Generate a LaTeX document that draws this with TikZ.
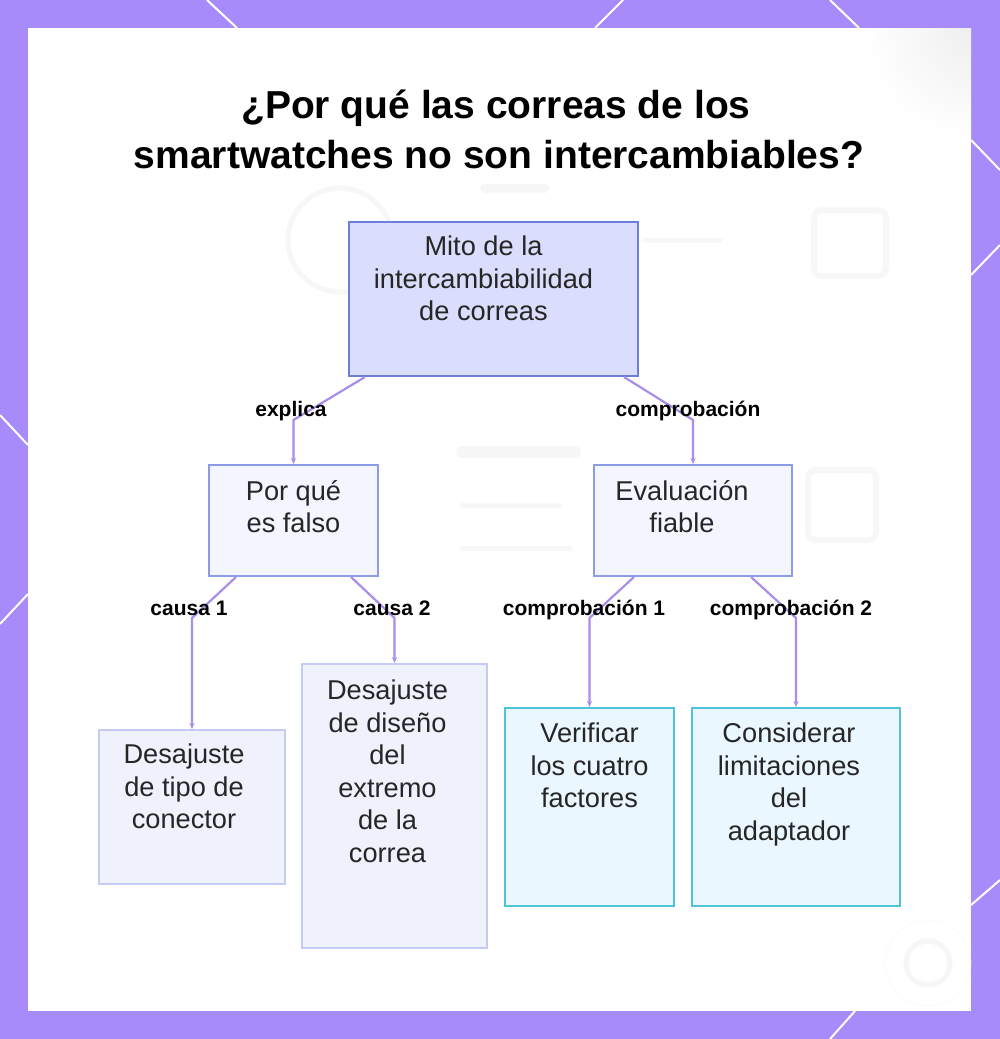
\documentclass[tikz,border=0pt]{standalone}
\usepackage{fontspec}
\setmainfont{Liberation Sans}
\usetikzlibrary{arrows.meta}
\definecolor{framec}{HTML}{A78BFA}
\definecolor{connc}{HTML}{A98DEB}
\definecolor{txtc}{HTML}{262626}
\definecolor{topfill}{HTML}{DADDFB}
\definecolor{topdraw}{HTML}{6E7EDB}
\definecolor{midfill}{HTML}{F3F5FF}
\definecolor{middraw}{HTML}{8C9BEA}
\definecolor{leaffill}{HTML}{EFF1FD}
\definecolor{leafdraw}{HTML}{C5CBF6}
\definecolor{checkfill}{HTML}{EBF7FE}
\definecolor{checkdraw}{HTML}{4FC3DD}
\definecolor{ghost}{HTML}{F7F7F7}
\tikzset{
  boxbase/.style={rectangle, inner sep=0pt, line width=2pt},
  topbox/.style={boxbase, fill=topfill, draw=topdraw},
  midbox/.style={boxbase, fill=midfill, draw=middraw},
  leafbox/.style={boxbase, fill=leaffill, draw=leafdraw},
  checkbox/.style={boxbase, fill=checkfill, draw=checkdraw},
  boxtext/.style={anchor=north, inner sep=0pt, align=center, text=txtc,
    font=\fontsize{27.2}{32.5}\selectfont},
  lbl/.style={anchor=base, inner sep=0pt, text=black,
    font=\fontsize{21}{24}\selectfont\bfseries},
  conn/.style={draw=connc, line width=2.2pt, line join=round,
    -{Stealth[length=6pt,width=5pt]}},
  deco/.style={draw=white, line width=2pt},
  ghostline/.style={draw=ghost, line width=6pt, line cap=round, rounded corners=8pt},
  titletext/.style={anchor=base, inner sep=0pt, text=black,
    font=\fontsize{39}{46}\selectfont\bfseries},
}
\begin{document}
\begin{tikzpicture}[x=1pt,y=-1pt]
\useasboundingbox (0,0) rectangle (1000,1039);
\fill[framec] (0,0) rectangle (1000,1039);
\fill[white] (28,28) rectangle (971,1011);
% faint blurred background traces
\begin{scope}
  \clip (28,28) rectangle (971,1011);
  \shade[inner color=gray!13, outer color=white] (975,30) circle (110pt);
\end{scope}
\draw[ghostline] (814,210) rectangle (886,276);
\draw[ghostline] (808,470) rectangle (876,540);
\draw[draw=ghost, line width=5pt] (340,240) circle (52pt);
\draw[draw=ghost, line width=9pt, line cap=round] (485,188) -- (545,188);
\draw[draw=ghost, line width=12pt, line cap=round] (462,452) -- (575,452);
\draw[draw=ghost, line width=5pt, line cap=round] (645,240) -- (720,240);
\draw[draw=ghost, line width=5pt, line cap=round] (462,505) -- (560,505);
\draw[draw=ghost, line width=5pt, line cap=round] (462,548) -- (570,548);
\draw[draw=gray!7, line width=0.8pt, densely dotted] (928,963) circle (43pt);
\draw[draw=gray!7, line width=5pt] (928,963) circle (22pt);
% decorative diagonals in the frame
\draw[deco] (207,0) -- (237,28);
\draw[deco] (623,0) -- (595,28);
\draw[deco] (830,0) -- (859,28);
\draw[deco] (0,415) -- (28,445);
\draw[deco] (28,594) -- (0,624);
\draw[deco] (971,140) -- (1000,170);
\draw[deco] (1000,245) -- (971,275);
\draw[deco] (1000,880) -- (971,905);
\draw[deco] (855,1011) -- (830,1039);

% title
\node[titletext] (t1) at (496,118) {¿Por qué las correas de los};
\node[titletext] (t2) at (499,168) {smartwatches no son intercambiables?};

% boxes
\node[topbox, minimum width=289pt, minimum height=154pt] (mito) at (493.5,299) {};
\node[midbox, minimum width=169pt, minimum height=111pt] (pq) at (293.5,520.5) {};
\node[midbox, minimum width=198pt, minimum height=111pt] (ev) at (693,520.5) {};
\node[leafbox, minimum width=186pt, minimum height=154pt] (d1) at (192,807) {};
\node[leafbox, minimum width=185pt, minimum height=284pt] (d2) at (394.5,806) {};
\node[checkbox, minimum width=169pt, minimum height=198pt] (v1) at (589.5,807) {};
\node[checkbox, minimum width=208pt, minimum height=198pt] (v2) at (796,807) {};

% box texts
\node[boxtext] (mitot) at ([xshift=-10pt,yshift=-15pt]mito.north) {Mito de la\\intercambiabilidad\\de correas};
\node[boxtext] (pqt) at ([yshift=-16pt]pq.north) {Por qué\\es falso};
\node[boxtext] (evt) at ([xshift=-11pt,yshift=-16pt]ev.north) {Evaluación\\fiable};
\node[boxtext] (d1t) at ([xshift=-8pt,yshift=-15pt]d1.north) {Desajuste\\de tipo de\\conector};
\node[boxtext] (d2t) at ([xshift=-7pt,yshift=-17pt]d2.north) {Desajuste\\de diseño\\del\\extremo\\de la\\correa};
\node[boxtext] (v1t) at ([yshift=-16pt]v1.north) {Verificar\\los cuatro\\factores};
\node[boxtext] (v2t) at ([xshift=-7pt,yshift=-16pt]v2.north) {Considerar\\limitaciones\\del\\adaptador};

% bend levels
\coordinate (k1) at (0,420);
\coordinate (k2) at (0,618);

% connectors
\draw[conn] ([xshift=17pt]mito.south west) -- (pq.north |- k1) -- (pq.north);
\draw[conn] ([xshift=-15pt]mito.south east) -- (ev.north |- k1) -- (ev.north);
\draw[conn] ([xshift=28pt]pq.south west) -- (d1.north |- k2) -- (d1.north);
\draw[conn] ([xshift=-28pt]pq.south east) -- (d2.north |- k2) -- (d2.north);
\draw[conn] ([xshift=41pt]ev.south west) -- (v1.north |- k2) -- (v1.north);
\draw[conn] ([xshift=-42pt]ev.south east) -- (v2.north |- k2) -- (v2.north);

% labels
\node[lbl] (l1) at (291,416) {explica};
\node[lbl] (l2) at (688,416) {comprobación};
\node[lbl] (l3) at (189,615) {causa 1};
\node[lbl] (l4) at (392,615) {causa 2};
\node[lbl] (l5) at (584,615) {comprobación 1};
\node[lbl] (l6) at (791,615) {comprobación 2};
\end{tikzpicture}
\end{document}
